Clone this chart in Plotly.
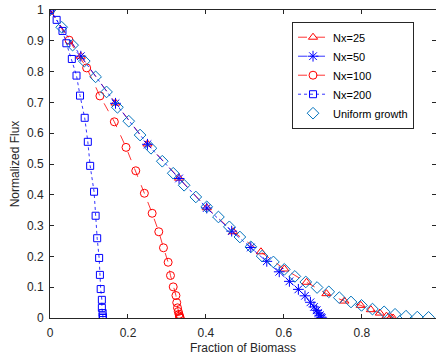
import plotly.graph_objects as go

nx25_x = [0, 0.079, 0.168, 0.250, 0.331, 0.402, 0.470, 0.541, 0.601, 0.658, 0.709, 0.755, 0.797, 0.823, 0.846, 0.863, 0.874, 0.880]
nx25_y = [1, 0.850, 0.698, 0.565, 0.454, 0.358, 0.280, 0.215, 0.159, 0.116, 0.079, 0.055, 0.041, 0.027, 0.016, 0.006, 0.002, 0]

nx50_x = [0, 0.079, 0.168, 0.250, 0.331, 0.402, 0.466, 0.515, 0.556, 0.588, 0.614, 0.637, 0.654, 0.668, 0.677, 0.684, 0.688, 0.692, 0.695, 0.697]
nx50_y = [1, 0.850, 0.697, 0.564, 0.453, 0.357, 0.282, 0.229, 0.184, 0.150, 0.119, 0.093, 0.072, 0.051, 0.036, 0.025, 0.016, 0.009, 0.003, 0]

nx100_x = [0, 0.049, 0.094, 0.128, 0.165, 0.195, 0.220, 0.242, 0.262, 0.279, 0.291, 0.303, 0.309, 0.316, 0.323, 0.325, 0.327, 0.329, 0.331, 0.332, 0.333, 0.334]
nx100_y = [1, 0.902, 0.812, 0.721, 0.637, 0.554, 0.478, 0.405, 0.340, 0.280, 0.228, 0.181, 0.138, 0.101, 0.073, 0.050, 0.033, 0.021, 0.012, 0.006, 0.002, 0]

nx200_x = [0, 0.017, 0.032, 0.042, 0.056, 0.068, 0.077, 0.089, 0.097, 0.103, 0.113, 0.117, 0.121, 0.126, 0.128, 0.130, 0.133, 0.133, 0.135, 0.135, 0.136]
nx200_y = [1, 0.968, 0.932, 0.892, 0.841, 0.787, 0.722, 0.650, 0.572, 0.494, 0.410, 0.332, 0.259, 0.195, 0.140, 0.094, 0.059, 0.033, 0.016, 0.005, 0]

uni_x = [0, 0.030, 0.058, 0.088, 0.117, 0.145, 0.173, 0.202, 0.231, 0.259, 0.288, 0.316, 0.344, 0.374, 0.402,
         0.432, 0.460, 0.487, 0.515, 0.544, 0.573, 0.601, 0.628, 0.656, 0.685, 0.715, 0.742, 0.772, 0.799,
         0.827, 0.857, 0.885, 0.913, 0.942, 0.971]
uni_y = [1, 0.944, 0.886, 0.834, 0.783, 0.734, 0.684, 0.639, 0.594, 0.551, 0.509, 0.470, 0.431, 0.393, 0.361,
         0.328, 0.296, 0.263, 0.231, 0.201, 0.182, 0.158, 0.135, 0.117, 0.099, 0.085, 0.066, 0.052, 0.041,
         0.029, 0.020, 0.012, 0.006, 0.003, 0.002]

x_ticks = [0, 0.2, 0.4, 0.6, 0.8]
x_tick_labels = ["0", "0.2", "0.4", "0.6", "0.8"]
y_ticks = [0, 0.1, 0.2, 0.3, 0.4, 0.5, 0.6, 0.7, 0.8, 0.9, 1]
y_tick_labels = ["0", "0.1", "0.2", "0.3", "0.4", "0.5", "0.6", "0.7", "0.8", "0.9", "1"]

RED = "#FF0000"
BLUE = "#0000FF"
UNI = "#0072BD"
FONT = "Liberation Sans, Arial, sans-serif"

fig = go.Figure()
fig.add_trace(go.Scatter(x=nx25_x, y=nx25_y, name="Nx=25", mode="lines+markers",
                         line=dict(color=RED, dash="dash", width=0.8),
                         marker=dict(symbol="triangle-up-open", size=8, color=RED, line=dict(width=1, color=RED))))
fig.add_trace(go.Scatter(x=nx50_x, y=nx50_y, name="Nx=50", mode="lines+markers",
                         line=dict(color=BLUE, dash="dashdot", width=0.8),
                         marker=dict(symbol="asterisk-open", size=9, color=BLUE, line=dict(width=1, color=BLUE))))
fig.add_trace(go.Scatter(x=nx100_x, y=nx100_y, name="Nx=100", mode="lines+markers",
                         line=dict(color=RED, dash="dash", width=0.8),
                         marker=dict(symbol="circle-open", size=8, color=RED, line=dict(width=1, color=RED))))
fig.add_trace(go.Scatter(x=nx200_x, y=nx200_y, name="Nx=200", mode="lines+markers",
                         line=dict(color=BLUE, dash="dot", width=0.8),
                         marker=dict(symbol="square-open", size=7, color=BLUE, line=dict(width=1, color=BLUE))))
fig.add_trace(go.Scatter(x=uni_x, y=uni_y, name="Uniform growth", mode="markers",
                         marker=dict(symbol="diamond-open", size=9, color=UNI, line=dict(width=1, color=UNI))))

axis_common = dict(showline=True, linecolor="#262626", linewidth=1, mirror="ticks",
                   ticks="inside", ticklen=4, tickcolor="#262626", showgrid=False, zeroline=False,
                   tickfont=dict(family=FONT, size=12, color="#262626"))

fig.update_layout(
    width=436, height=359,
    margin=dict(l=50, r=0, t=10, b=41),
    paper_bgcolor="white", plot_bgcolor="white",
    font=dict(family=FONT, size=12, color="#262626"),
    xaxis=dict(range=[0, 0.99], tickvals=x_ticks, ticktext=x_tick_labels, ticklabelstandoff=4,
               title=dict(text="Fraction of Biomass", standoff=4, font=dict(size=12)), **axis_common),
    yaxis=dict(range=[0, 1], tickvals=y_ticks, ticktext=y_tick_labels, ticklabelstandoff=3,
               title=dict(text="Normalized Flux", standoff=4, font=dict(size=12)), **axis_common),
    legend=dict(x=0.627, y=0.962, xanchor="left", yanchor="top",
                bgcolor="white", bordercolor="#262626", borderwidth=1,
                font=dict(family=FONT, size=11, color="#000000"), itemwidth=30, tracegroupgap=0),
    showlegend=True,
)

fig.write_html("out.html")
